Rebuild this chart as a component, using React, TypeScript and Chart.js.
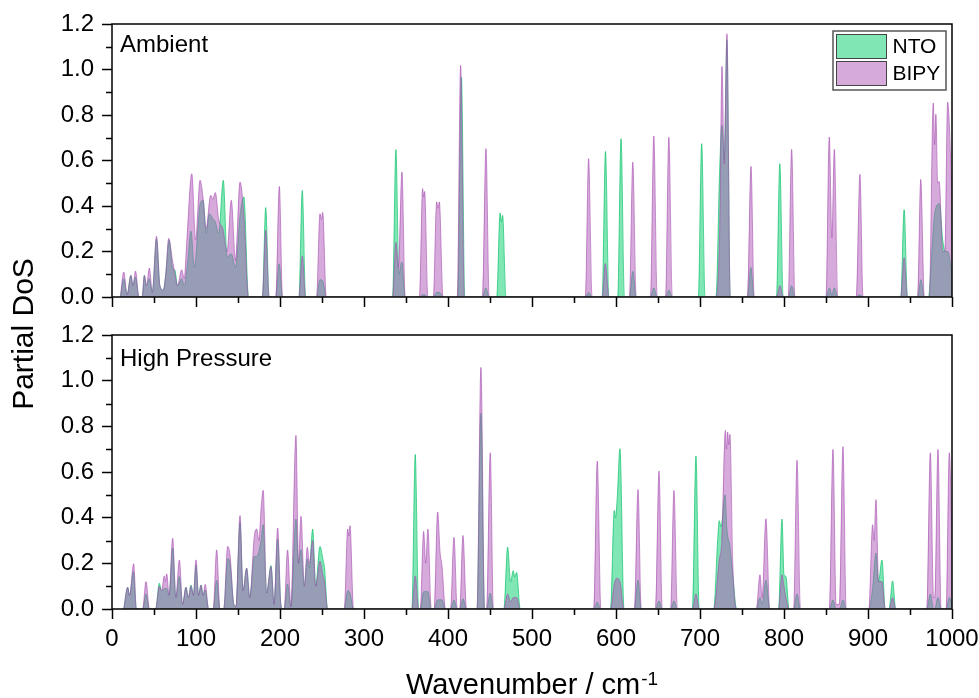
import React, { useEffect, useRef } from 'react';
import { Chart, registerables } from 'chart.js';

Chart.register(...registerables);

// ---------------- data ----------------
const seriesNames = ['NTO', 'BIPY'];
const panelNames = ['Ambient', 'High Pressure'];
const xTitleMain = 'Wavenumber / cm';
const xTitleSup = '-1';
const yTitle = 'Partial DoS';
const xMinorTicks = [50, 150, 250, 350, 450, 550, 650, 750, 850, 950];
const yMinorTicks = [0.1, 0.3, 0.5, 0.7, 0.9, 1.1];

// [wavenumber, partial DoS]
const ambientNTO: [number, number][] = [
  [10, 0], [14, 0.08], [18, 0.01], [22.5, 0.095], [25, 0.05], [28, 0.088], [32, 0],
  [36, 0], [38.5, 0.095], [41, 0.05], [44.5, 0.08], [48, 0.02], [53, 0.256], [57, 0.05], [61, 0.03], [64, 0.1], [68, 0.25], [72, 0.13], [75, 0.117], [78, 0.05], [83, 0.08], [86, 0.05], [90, 0.15], [94, 0.29], [98, 0.13], [105, 0.41], [108.5, 0.425], [112, 0.28], [116, 0.366], [120, 0.344], [123, 0.33], [127, 0.28], [132.5, 0.513], [137, 0.176], [142, 0.19], [147, 0.13], [152.5, 0.36], [157, 0.44], [162.5, 0],
  [179, 0], [183, 0.393], [187, 0],
  [195, 0], [199, 0.146], [203, 0],
  [222.5, 0], [226.5, 0.469], [230.5, 0],
  [243.5, 0], [247.5, 0.076], [251, 0.07], [255, 0],
  [334, 0], [338, 0.648], [341.5, 0.1], [345, 0.154], [349, 0],
  [366, 0], [370, 0.01], [372, 0.01], [376, 0],
  [382.5, 0], [386.5, 0.02], [390, 0.02], [394, 0],
  [411.5, 0], [416, 0.967], [420, 0],
  [441, 0], [445, 0.04], [449, 0],
  [458, 0], [462, 0.369], [463.5, 0.33], [465, 0.359], [469, 0],
  [563.5, 0], [567.5, 0.02], [571.5, 0],
  [583.5, 0], [587.5, 0.64], [591.5, 0],
  [602, 0], [606, 0.696], [610, 0],
  [616, 0], [620, 0.113], [624, 0],
  [641, 0], [645, 0.04], [649, 0],
  [659, 0], [663, 0.03], [667, 0],
  [698, 0], [702, 0.674], [706, 0],
  [719, 0], [723.5, 0.57], [726, 0.755], [729, 0.6], [732, 1.13], [736, 0],
  [756.5, 0], [760.5, 0.13], [764.5, 0],
  [791, 0], [795, 0.586], [799, 0],
  [805, 0], [809, 0.05], [813, 0],
  [850, 0], [854, 0.04], [857, 0.01], [860, 0.04], [864, 0],
  [886, 0], [890, 0.01], [894, 0],
  [939, 0], [943, 0.384], [947, 0],
  [959, 0], [963, 0.076], [967, 0],
  [972, 0], [976, 0.2], [979.5, 0.37], [985, 0.41], [989, 0.25], [992, 0.2], [995, 0.2], [1000, 0.1],
];

const ambientBIPY: [number, number][] = [
  [10, 0], [14, 0.11], [18, 0.01], [22.5, 0.095], [25, 0.05], [28, 0.114], [32, 0],
  [36, 0], [38.5, 0.095], [41, 0.05], [44.5, 0.127], [48, 0.02], [53, 0.267], [57, 0.05], [61, 0.03], [64, 0.1], [67.5, 0.258], [72, 0.16], [75, 0.1], [78, 0.05], [83, 0.12], [86, 0.08], [89, 0.24], [95, 0.542], [99.5, 0.25], [104.8, 0.513], [108.7, 0.425], [112, 0.3], [117.5, 0.447], [120, 0.43], [123, 0.459], [127, 0.34], [132, 0.3], [137, 0.2], [142, 0.425], [147, 0.16], [152.4, 0.505], [157, 0.36], [162.5, 0],
  [179, 0], [183, 0.293], [187, 0],
  [195, 0], [199.2, 0.486], [203, 0],
  [222.5, 0], [226.5, 0.18], [230.5, 0],
  [243.5, 0], [247.6, 0.366], [249.3, 0.34], [250.8, 0.372], [255, 0],
  [334, 0], [338, 0.24], [341, 0.13], [345.2, 0.549], [349, 0],
  [366, 0], [369.8, 0.476], [371, 0.44], [372.2, 0.464], [376, 0],
  [382.5, 0], [386.5, 0.418], [388.1, 0.39], [389.7, 0.418], [394, 0],
  [411, 0], [415, 1.018], [419.5, 0],
  [441, 0], [445.2, 0.652], [449, 0],
  [563.5, 0], [567.4, 0.608], [571.5, 0],
  [583.5, 0], [587.3, 0.147], [591.5, 0],
  [616, 0], [620, 0.593], [624, 0],
  [641, 0], [645, 0.708], [649, 0],
  [659, 0], [662.9, 0.702], [667, 0],
  [719, 0], [723.5, 0.3], [726.2, 1.014], [728.8, 0.586], [732.1, 1.157], [736, 0],
  [756.5, 0], [760.7, 0.574], [764.5, 0],
  [791, 0], [795.2, 0.05], [799, 0],
  [805, 0], [809.1, 0.649], [813, 0],
  [850, 0], [853.9, 0.703], [857, 0.26], [859.9, 0.649], [864, 0],
  [886, 0], [890.4, 0.539], [894, 0],
  [939, 0], [943, 0.173], [947, 0],
  [959, 0], [962.8, 0.517], [967, 0],
  [973, 0], [977.7, 0.853], [979.3, 0.67], [980.8, 0.803], [983, 0.5], [984.7, 0.508], [989, 0.2], [991.5, 0.2], [994.8, 0.857], [1000, 0.45],
];

const highPressureNTO: [number, number][] = [
  [14, 0], [18.7, 0.095], [21, 0.06], [25.5, 0.164], [29, 0],
  [36.5, 0], [40.5, 0.066], [44.5, 0],
  [52, 0], [56.3, 0.113], [59, 0.08], [62.3, 0.09], [65, 0.09], [68, 0.06], [72.2, 0.267], [76, 0.05], [80.2, 0.142], [84, 0.02], [88, 0.095], [91, 0.05], [94, 0.105], [97, 0.06], [100, 0.193], [103, 0.06], [106, 0.105], [108.5, 0.06], [111, 0.083], [115, 0],
  [120.5, 0], [124.6, 0.127], [128.5, 0],
  [133, 0], [137.7, 0.22], [140.5, 0.2], [145, 0.02], [147.6, 0.01], [152.4, 0.38], [156, 0.08], [160.3, 0.179], [164, 0.05], [169.4, 0.23], [172.2, 0.23], [177.4, 0.3], [180, 0.37], [184, 0.07], [189.3, 0.19], [193, 0.02], [197.2, 0.306], [201, 0.02], [203.2, 0],
  [205, 0], [209, 0.11], [213, 0.01], [219, 0.394], [222, 0.2], [225, 0.26], [229, 0.1], [232.5, 0.22], [235, 0.18], [238.9, 0.35], [242.5, 0.1], [247.6, 0.274], [251, 0.22], [253, 0.18], [256.7, 0],
  [276.5, 0], [280.6, 0.08], [283.3, 0.07], [287.5, 0],
  [357, 0], [361, 0.677], [365, 0],
  [367, 0], [371, 0.076], [376, 0.076], [380, 0],
  [383.5, 0], [387.7, 0.04], [392.8, 0.04], [397, 0],
  [403, 0], [407.1, 0.04], [411, 0],
  [414, 0], [417.8, 0.045], [422, 0],
  [434.5, 0], [439.2, 0.857], [443.5, 0],
  [446, 0], [450.3, 0.07], [454, 0],
  [466.5, 0], [471, 0.271], [474.5, 0.12], [477.7, 0.168], [479.5, 0.14], [481.7, 0.16], [486, 0],
  [573.5, 0], [577.7, 0.03], [582, 0],
  [593.5, 0], [597.9, 0.432], [599.5, 0.4], [601.6, 0.494], [604.7, 0.702], [609.5, 0],
  [622, 0], [626.2, 0.127], [630, 0],
  [647, 0], [651.2, 0.035], [655, 0],
  [665, 0], [669, 0.035], [673, 0],
  [691, 0], [695.2, 0.67], [699, 0],
  [716.3, 0], [721, 0.3], [722.9, 0.387], [725, 0.36], [729.8, 0.5], [732, 0.35], [735.6, 0.274], [739, 0.15], [743.6, 0],
  [767, 0], [771.4, 0.05], [774, 0.02], [778.5, 0.127], [783, 0],
  [793.5, 0], [797.6, 0.394], [800, 0.15], [802.3, 0.142], [806, 0],
  [811.5, 0], [815.5, 0.066], [819.5, 0],
  [854, 0], [858.3, 0.04], [862, 0], [866, 0], [870.2, 0.04], [874, 0],
  [901, 0], [905.5, 0.09], [909.5, 0.245], [912.5, 0.12], [916.6, 0.215], [920.5, 0],
  [925, 0], [929.3, 0.123], [933, 0],
  [970, 0], [974.2, 0.066], [978, 0],
  [979.5, 0], [983.3, 0.05], [987, 0],
  [993, 0], [996.8, 0.05], [1000, 0.02],
];

const highPressureBIPY: [number, number][] = [
  [14, 0], [18.7, 0.095], [21, 0.06], [25.8, 0.198], [29, 0],
  [36.5, 0], [40.5, 0.12], [44.5, 0],
  [52, 0], [56.3, 0.1], [59, 0.08], [62.3, 0.145], [63.7, 0.12], [65.1, 0.154], [68, 0.06], [72.2, 0.31], [76, 0.05], [80.2, 0.215], [84, 0.02], [88, 0.095], [91, 0.05], [94, 0.1], [97, 0.06], [100, 0.215], [103, 0.06], [106, 0.105], [108.5, 0.06], [111, 0.108], [115, 0],
  [120.5, 0], [124.6, 0.259], [128.5, 0],
  [133, 0], [137.7, 0.274], [140.5, 0.237], [145, 0.02], [147.6, 0.01], [152.4, 0.409], [156, 0.08], [160.3, 0.179], [164, 0.05], [169.4, 0.318], [172.2, 0.35], [175, 0.3], [177.4, 0.435], [180, 0.52], [184, 0.07], [189.3, 0.186], [193, 0.02], [197.2, 0.355], [201, 0.02], [203.2, 0],
  [205, 0], [209, 0.259], [213, 0.01], [219, 0.76], [222, 0.2], [225, 0.406], [229, 0.1], [232.5, 0.27], [235, 0.2], [238.9, 0.3], [242.5, 0.1], [247.6, 0.21], [251, 0.15], [253, 0.12], [256.7, 0],
  [276.5, 0], [280.6, 0.35], [282, 0.32], [283.3, 0.365], [287.5, 0],
  [357, 0], [361, 0.145], [365, 0],
  [367, 0], [371, 0.34], [373.5, 0.2], [376.1, 0.35], [380, 0],
  [383.5, 0], [387.7, 0.425], [390.5, 0.25], [392.8, 0.19], [397, 0],
  [403, 0], [407.1, 0.314], [411, 0],
  [414, 0], [417.8, 0.322], [422, 0],
  [434.5, 0], [439.2, 1.058], [443.5, 0],
  [446, 0], [450.3, 0.684], [454, 0],
  [466.5, 0], [471, 0.066], [474.5, 0.03], [477.7, 0.05], [481.7, 0.05], [486, 0],
  [573.5, 0], [577.7, 0.648], [582, 0],
  [593.5, 0], [598, 0.11], [601, 0.135], [604.7, 0.12], [609.5, 0],
  [622, 0], [626.2, 0.523], [630, 0],
  [647, 0], [651.2, 0.604], [655, 0],
  [665, 0], [669, 0.519], [673, 0],
  [691, 0], [695.2, 0.066], [699, 0],
  [716.3, 0], [722.9, 0.215], [726, 0.3], [730.2, 0.782], [731.5, 0.7], [732.9, 0.775], [734.2, 0.72], [735.6, 0.765], [739, 0.2], [743.6, 0],
  [767, 0], [771.4, 0.15], [774, 0.05], [778.5, 0.395], [783, 0],
  [793.5, 0], [797.6, 0.15], [800, 0.1], [802.3, 0.05], [806, 0],
  [811.5, 0], [815.5, 0.652], [819.5, 0],
  [854, 0], [858.3, 0.699], [862, 0.02], [866, 0.02], [870.2, 0.711], [874, 0],
  [901, 0], [905.5, 0.369], [907.2, 0.3], [909.5, 0.479], [912.5, 0.12], [916.6, 0.12], [920.5, 0],
  [925, 0], [929.3, 0.05], [933, 0],
  [970, 0], [974.2, 0.684], [978, 0.05], [979.5, 0.05], [983.3, 0.699], [987, 0],
  [993, 0], [996.8, 0.684], [1000, 0.3],
];

// ---------------- styling ----------------
const FONT = '"Liberation Sans", Arial, Helvetica, sans-serif';
const NTO_FILL = 'rgba(0, 205, 105, 0.5)';
const NTO_LINE = 'rgba(0, 190, 100, 0.65)';
const BIPY_FILL = 'rgba(173, 85, 183, 0.5)';
const BIPY_LINE = 'rgba(165, 75, 175, 0.6)';

type PanelSpec = {
  label: string;
  nto: [number, number][];
  bipy: [number, number][];
  padTop: number;
  padBottom: number;
  xAxisHeight: number;
  showXLabels: boolean;
  labelDy: number;
  legend: boolean;
  yTitle: boolean;
  xTitle: boolean;
};

const panels: PanelSpec[] = [
  { label: panelNames[0], nto: ambientNTO, bipy: ambientBIPY, padTop: 24, padBottom: 381, xAxisHeight: 20, showXLabels: false, labelDy: 28, legend: true, yTitle: true, xTitle: false },
  { label: panelNames[1], nto: highPressureNTO, bipy: highPressureBIPY, padTop: 335, padBottom: 0, xAxisHeight: 89, showXLabels: true, labelDy: 31, legend: false, yTitle: false, xTitle: true },
];

function decorPlugin(spec: PanelSpec) {
  return {
    id: 'panelDecor',
    afterDatasetsDraw(chart: any) {
      const { ctx, chartArea: a, scales } = chart;
      ctx.save();
      // frame
      ctx.strokeStyle = '#000';
      ctx.lineWidth = 1.5;
      ctx.strokeRect(a.left, a.top, a.right - a.left, a.bottom - a.top);
      // minor ticks
      ctx.beginPath();
      xMinorTicks.forEach((v) => {
        const px = Math.round(scales.x.getPixelForValue(v)) + 0.5;
        ctx.moveTo(px, a.bottom);
        ctx.lineTo(px, a.bottom + 6);
      });
      yMinorTicks.forEach((v) => {
        const py = Math.round(scales.y.getPixelForValue(v)) + 0.5;
        ctx.moveTo(a.left, py);
        ctx.lineTo(a.left - 6, py);
      });
      ctx.stroke();
      // panel label
      ctx.fillStyle = '#000';
      ctx.font = `24px ${FONT}`;
      ctx.textAlign = 'left';
      ctx.textBaseline = 'alphabetic';
      ctx.fillText(spec.label, a.left + 8, a.top + spec.labelDy);

      if (spec.legend) {
        const boxW = 113;
        const boxH = 59;
        const bx = a.right - 6 - boxW;
        const by = a.top + 7;
        ctx.fillStyle = '#fff';
        ctx.fillRect(bx, by, boxW, boxH);
        ctx.strokeStyle = '#555';
        ctx.lineWidth = 1.5;
        ctx.strokeRect(bx, by, boxW, boxH);
        chart.data.datasets.forEach((ds: any, i: number) => {
          const sx = bx + 3.5;
          const sy = by + 3.5 + i * 27;
          ctx.fillStyle = ds.backgroundColor;
          ctx.fillRect(sx, sy, 50, 24);
          ctx.strokeStyle = '#444';
          ctx.lineWidth = 1;
          ctx.strokeRect(sx, sy, 50, 24);
          ctx.fillStyle = '#000';
          ctx.font = `21px ${FONT}`;
          ctx.textAlign = 'left';
          ctx.textBaseline = 'middle';
          ctx.fillText(ds.label, sx + 56, sy + 13);
        });
      }

      if (spec.yTitle) {
        ctx.save();
        ctx.translate(33, 334);
        ctx.rotate(-Math.PI / 2);
        ctx.fillStyle = '#000';
        ctx.font = `30px ${FONT}`;
        ctx.textAlign = 'center';
        ctx.textBaseline = 'alphabetic';
        ctx.fillText(yTitle, 0, 0);
        ctx.restore();
      }

      if (spec.xTitle) {
        ctx.fillStyle = '#000';
        ctx.font = `29px ${FONT}`;
        const w1 = ctx.measureText(xTitleMain).width;
        ctx.font = `19px ${FONT}`;
        const w2 = ctx.measureText(xTitleSup).width;
        const cx = (a.left + a.right) / 2;
        const start = cx - (w1 + w2 + 1) / 2;
        const base = 694;
        ctx.textAlign = 'left';
        ctx.textBaseline = 'alphabetic';
        ctx.font = `29px ${FONT}`;
        ctx.fillText(xTitleMain, start, base);
        ctx.font = `19px ${FONT}`;
        ctx.fillText(xTitleSup, start + w1 + 1, base - 9);
      }
      ctx.restore();
    },
  };
}

function buildConfig(spec: PanelSpec): any {
  const tickFont = { family: FONT, size: 24 };
  const gridOpts = {
    display: true,
    drawOnChartArea: false,
    drawTicks: true,
    tickLength: 10,
    tickWidth: 1.5,
    tickColor: '#000',
    color: '#000',
  };
  return {
    type: 'line',
    data: {
      datasets: [
        {
          label: seriesNames[0],
          data: spec.nto.map(([x, y]) => ({ x, y })),
          fill: 'origin',
          backgroundColor: NTO_FILL,
          borderColor: NTO_LINE,
          borderWidth: 1,
          pointRadius: 0,
          cubicInterpolationMode: 'monotone',
          order: 1,
        },
        {
          label: seriesNames[1],
          data: spec.bipy.map(([x, y]) => ({ x, y })),
          fill: 'origin',
          backgroundColor: BIPY_FILL,
          borderColor: BIPY_LINE,
          borderWidth: 1,
          pointRadius: 0,
          cubicInterpolationMode: 'monotone',
          order: 0,
        },
      ],
    },
    options: {
      animation: false,
      responsive: false,
      maintainAspectRatio: false,
      events: [],
      layout: { padding: { left: 0, right: 27, top: spec.padTop, bottom: spec.padBottom } },
      plugins: {
        legend: { display: false },
        tooltip: { enabled: false },
        title: { display: false },
      },
      scales: {
        x: {
          type: 'linear',
          min: 0,
          max: 1000,
          afterFit: (s: any) => {
            s.height = spec.xAxisHeight;
            s.paddingLeft = 0;
            s.paddingRight = 0;
          },
          ticks: {
            stepSize: 100,
            autoSkip: false,
            maxRotation: 0,
            padding: 6,
            color: '#000',
            font: tickFont,
            callback: (v: any) => (spec.showXLabels ? String(v) : ''),
          },
          grid: gridOpts,
          border: { display: false },
        },
        y: {
          type: 'linear',
          min: 0,
          max: 1.2,
          afterFit: (s: any) => {
            s.width = 112;
          },
          ticks: {
            stepSize: 0.2,
            padding: 8,
            color: '#000',
            font: tickFont,
            callback: (v: any) => Number(v).toFixed(1),
          },
          grid: gridOpts,
          border: { display: false },
        },
      },
    },
    plugins: [decorPlugin(spec)],
  };
}

export default function App() {
  const topRef = useRef<HTMLCanvasElement>(null);
  const bottomRef = useRef<HTMLCanvasElement>(null);

  useEffect(() => {
    const c1 = new Chart(topRef.current as HTMLCanvasElement, buildConfig(panels[0]));
    const c2 = new Chart(bottomRef.current as HTMLCanvasElement, buildConfig(panels[1]));
    return () => {
      c1.destroy();
      c2.destroy();
    };
  }, []);

  return (
    <div style={{ position: 'absolute', left: 0, top: 0, width: 979, height: 698, background: '#fff', overflow: 'hidden' }}>
      <canvas ref={topRef} width={979} height={698} style={{ position: 'absolute', left: 0, top: 0 }} />
      <canvas ref={bottomRef} width={979} height={698} style={{ position: 'absolute', left: 0, top: 0 }} />
    </div>
  );
}
